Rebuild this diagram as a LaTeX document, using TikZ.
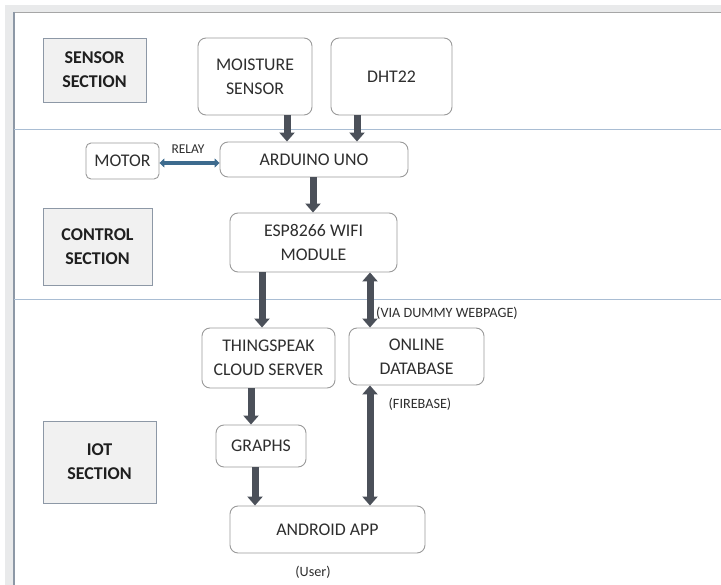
\documentclass[tikz,border=0pt]{standalone}
\usepackage{fontspec}
\setmainfont{Carlito}
\usetikzlibrary{arrows.meta}
\definecolor{arr}{HTML}{4B5059}
\definecolor{relay}{HTML}{3D6B8E}
\definecolor{nodeb}{HTML}{9A9A9A}
\definecolor{secb}{HTML}{8D98A6}
\definecolor{secf}{HTML}{F1F1F1}
\definecolor{divl}{HTML}{A9BDD3}
\definecolor{txt}{HTML}{2E2E2E}
\definecolor{band}{HTML}{E9EAEB}
\tikzset{
  box/.style={draw=nodeb, line width=0.9pt, rounded corners=8pt, fill=white, align=center,
    text=txt, font=\fontsize{17.8}{24}\selectfont, inner sep=0pt},
  secbox/.style={draw=secb, line width=0.9pt, fill=secf, align=center, text=black!88,
    font=\fontsize{18}{24}\selectfont\bfseries, inner sep=0pt},
  fat/.style={draw=arr, line width=7pt, -{Triangle[width=15pt,length=9pt]}},
  fatboth/.style={draw=arr, line width=7pt, {Triangle[width=15pt,length=9pt]}-{Triangle[width=15pt,length=9pt]}},
  note/.style={text=txt, inner sep=0pt},
}
\begin{document}
\begin{tikzpicture}[x=1pt,y=-1pt]
\useasboundingbox (0,0) rectangle (721,585);
% frame
\fill[band] (5,5) rectangle (721,12);
\fill[band] (5,5) rectangle (13,585);
\draw[draw=black!35, line width=1.5pt] (13,12.5) -- (721,12.5);
\draw[draw=secb, line width=1.5pt] (14,12) -- (14,585);
\draw[draw=divl, line width=1pt] (14,130) -- (721,130);
\draw[draw=divl, line width=1pt] (14,300) -- (721,300);
% section labels
\node[secbox, minimum width=103, minimum height=64] (sec1) at (94.5,70) {SENSOR\\SECTION};
\node[secbox, minimum width=109, minimum height=77] (sec2) at (97.5,246.5) {CONTROL\\SECTION};
\node[secbox, minimum width=113, minimum height=82] (sec3) at (99.5,462) {IOT\\SECTION};
% nodes
\node[box, minimum width=114, minimum height=77] (moist) at (255,76.5) {MOISTURE\\SENSOR};
\node[box, minimum width=121, minimum height=77] (dht) at (391.5,76.5) {DHT22};
\node[box, minimum width=73, minimum height=36, rounded corners=5pt] (motor) at (122.5,161) {MOTOR};
\node[box, minimum width=188, minimum height=35] (ard) at (314,159.5) {ARDUINO UNO};
\node[box, minimum width=167, minimum height=59] (esp) at (313.5,242.5) {ESP8266 WIFI\\MODULE};
\node[box, minimum width=133, minimum height=60] (thing) at (268.5,358) {THINGSPEAK\\CLOUD SERVER};
\node[box, minimum width=135, minimum height=57] (db) at (416.5,356.5) {ONLINE\\DATABASE};
\node[box, minimum width=90, minimum height=42] (graphs) at (261,446) {GRAPHS};
\node[box, minimum width=195, minimum height=47] (android) at (327.5,529.5) {ANDROID APP};
% notes
\node[note, font=\fontsize{13.5}{15}\selectfont] (relaytxt) at (188,149) {RELAY};
\node[note, anchor=west, font=\fontsize{14.2}{16}\selectfont] (via) at (376,313) {(VIA DUMMY WEBPAGE)};
\node[note, font=\fontsize{14.2}{16}\selectfont] (fire) at (420,404) {(FIREBASE)};
\node[note, font=\fontsize{14.2}{16}\selectfont] (user) at (313,572) {(User)};
% connectors
\draw[fat] (moist.south -| 287,0) -- (ard.north -| 287,0);
\draw[fat] (dht.south -| 357,0) -- (ard.north -| 357,0);
\draw[fat] (ard.south -| 313,0) -- (esp.north -| 313,0);
\draw[fat] (esp.south -| 262,0) -- (thing.north -| 262,0);
\draw[fatboth] (esp.south -| 370,0) -- (db.north -| 370,0);
\draw[fat] (thing.south -| 251,0) -- (graphs.north -| 251,0);
\draw[fat] (graphs.south -| 255,0) -- (android.north -| 255,0);
\draw[fatboth] (db.south -| 370,0) -- (android.north -| 370,0);
\draw[draw=relay, line width=4pt, {Triangle[width=9pt,length=5pt]}-{Triangle[width=9pt,length=5pt]}] (motor.east |- 0,163) -- (ard.west |- 0,163);
\end{tikzpicture}
\end{document}
